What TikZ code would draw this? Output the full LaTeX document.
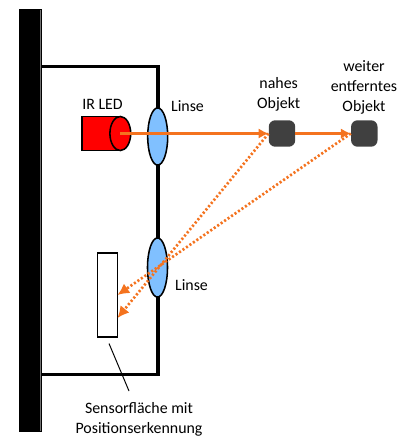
\documentclass[tikz,border=0pt]{standalone}
\usepackage{fontspec}
\setmainfont{Carlito}
\usetikzlibrary{arrows.meta,shapes.geometric}
\definecolor{strahl}{HTML}{F4731F}
\definecolor{linsenblau}{HTML}{80C0FF}
\definecolor{objektgrau}{HTML}{404040}
\tikzset{
  wand/.style={line width=2.2pt},
  linse/.style={ellipse,draw=black,line width=1.1pt,fill=linsenblau,inner sep=0pt,minimum width=0.5cm},
  objekt/.style={rectangle,rounded corners=0.16cm,fill=objektgrau,inner sep=0pt,minimum width=0.66cm,minimum height=0.66cm},
  beschriftung/.style={font=\fontsize{11.3}{14.2}\selectfont,inner sep=0pt,align=center},
  strahlhin/.style={strahl,line width=1.6pt,-{Latex[length=0.25cm,width=0.26cm]}},
  strahlrueck/.style={strahl,line width=1.9pt,dash pattern=on 1.5pt off 1.5pt,-{Latex[length=0.29cm,width=0.29cm]}}
}
\begin{document}
\begin{tikzpicture}[x=0.025cm,y=-0.025cm]
\useasboundingbox (0,0) rectangle (404,446);
\draw [wand] (41,66.5) -- (158,66.5) -- (158,374.5) -- (41,374.5);
\fill [black] (18.5,9) rectangle (42,431.5);
\draw [black!55,line width=0.4pt] (40.5,10) -- (40.5,431);
\node (linseoben) [linse,minimum height=1.43cm] at (157.7,136.5) {};
\node (linseunten) [linse,minimum height=1.48cm] at (157.5,267.5) {};
\filldraw [fill=red,draw=black,line width=1.1pt] (120,116.5) -- (82,116.5) -- (82,150.5) -- (120,150.5);
\node (led) [ellipse,draw=black,line width=1.1pt,fill=red,inner sep=0pt,minimum width=0.52cm,minimum height=0.85cm] at (120.3,133.5) {};
\node (sensor) [rectangle,draw=black,line width=1pt,fill=white,inner sep=0pt,minimum width=0.49cm,minimum height=2.1cm] at (107.5,295) {};
\node (nah) [objekt] at (282,133.5) {};
\node (fern) [objekt] at (364.3,133.5) {};
\coordinate (bildnah) at (117.5,318);
\coordinate (bildfern) at (117.5,295);
\draw [strahlhin] (led.center) -- (nah.west);
\draw [strahlhin] (nah.east) -- (fern.west);
\draw [strahlrueck] (nah.west) -- (bildnah);
\draw [strahlrueck] (fern.west) -- (bildfern);
\node (ledtext) [beschriftung] at (102.5,104) {IR LED};
\node (linsetext1) [beschriftung] at (187.5,106.5) {Linse};
\node (linsetext2) [beschriftung] at (191.5,285) {Linse};
\node (nahtext) [beschriftung] at (278.7,94) {nahes\\Objekt};
\node (ferntext) [beschriftung] at (364,87) {weiter\\entferntes\\Objekt};
\node (sensortext) [beschriftung] at (139,419) {Sensorfläche mit\\Positionserkennung};
\coordinate (hinweisoben) at (109,343.5);
\coordinate (hinweisunten) at (129,391);
\draw [line width=0.7pt] (hinweisoben) -- (hinweisunten);
\end{tikzpicture}
\end{document}
